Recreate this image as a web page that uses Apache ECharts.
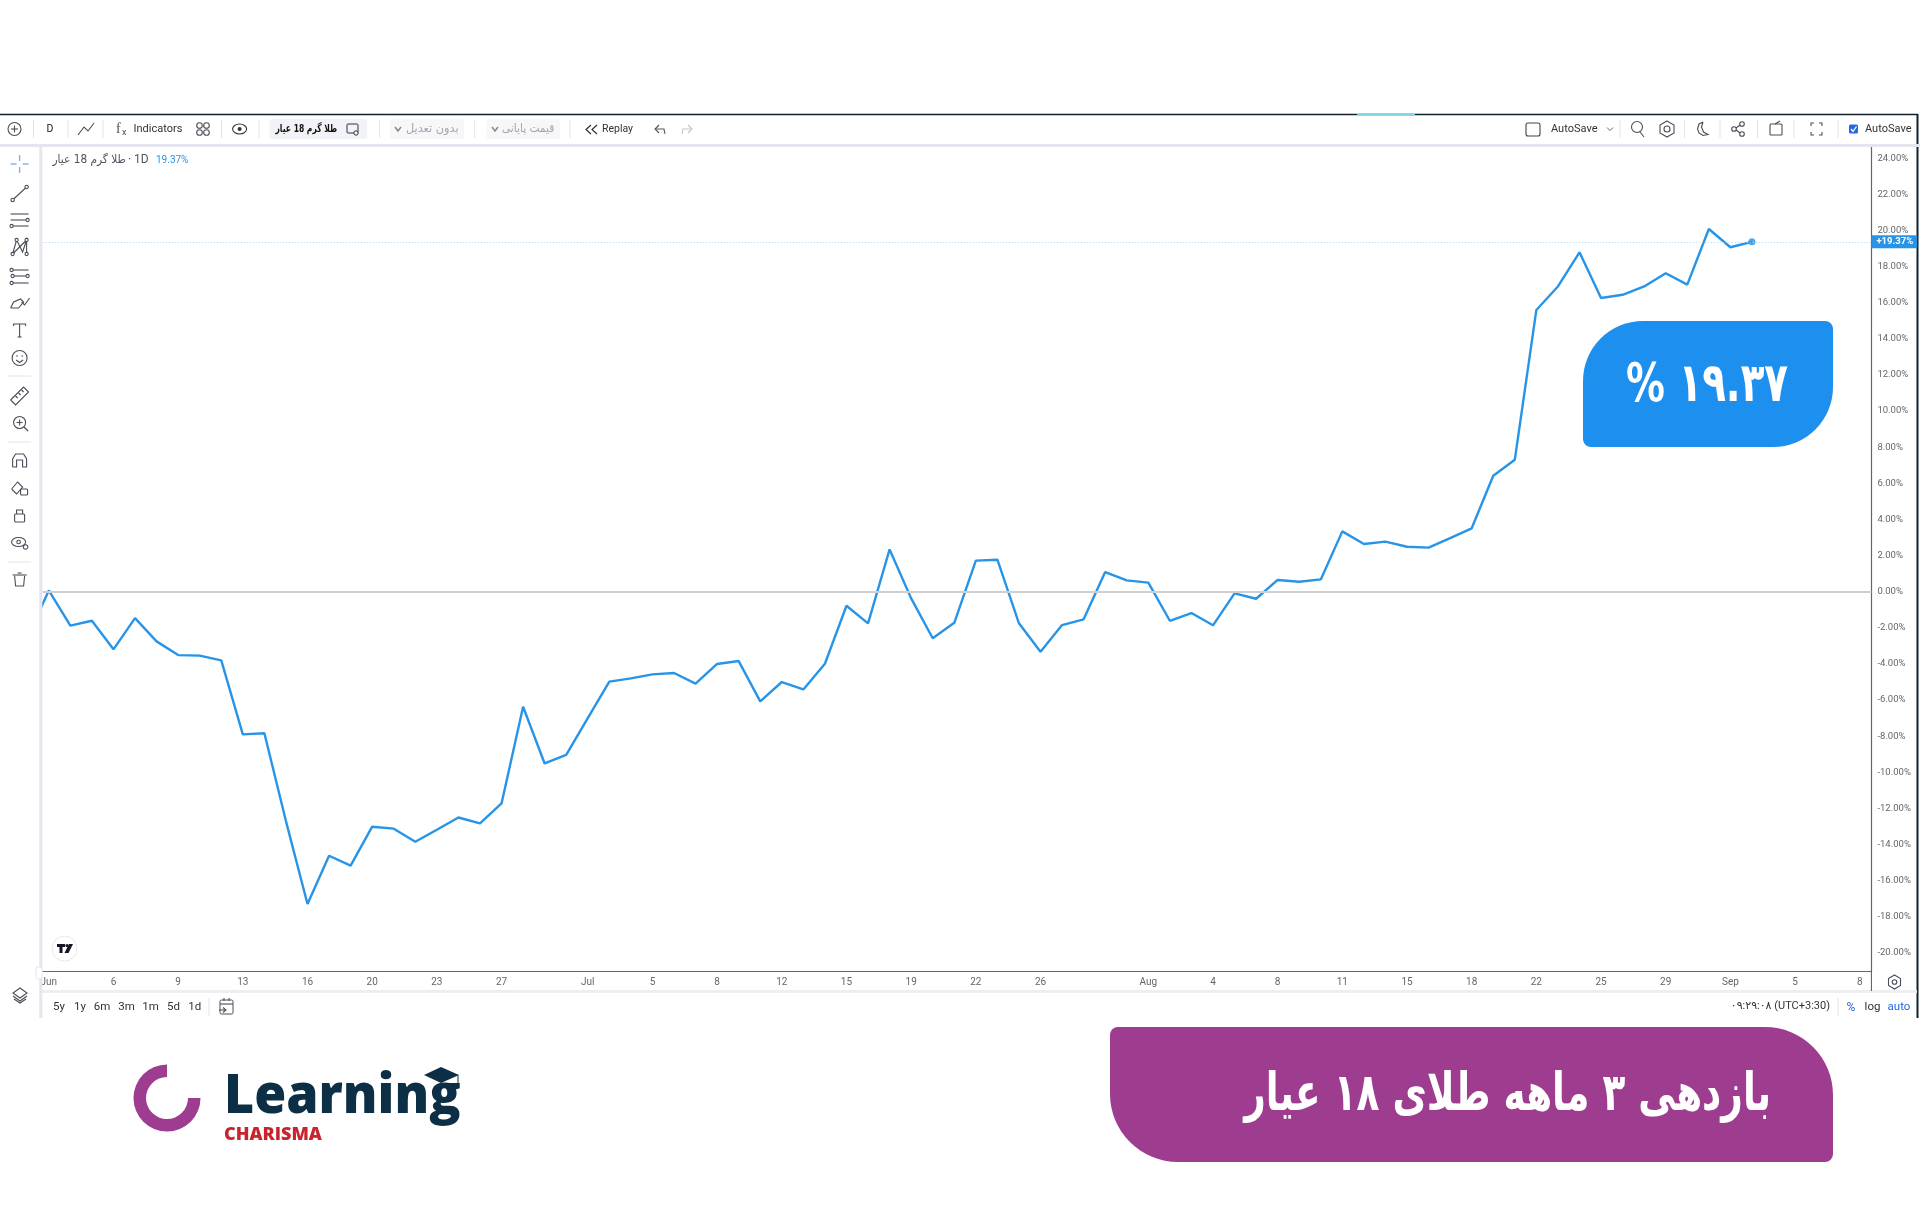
<!DOCTYPE html>
<html>
<head>
<meta charset="utf-8">
<title>gold 18k</title>
<style>
html,body{margin:0;padding:0;background:#fff;}
#main{width:1920px;height:1228px;}
</style>
<script src="https://cdn.jsdelivr.net/npm/echarts@6/dist/echarts.min.js"></script>
</head>
<body>
<div id="main"></div>
<script>
// returns in percent, first one is cut by the left edge
var returns = [-2.55,
	0.07,-1.88,-1.61,-3.19,-1.46,-2.75,-3.51,-3.54,-3.80,-7.90,
	-7.84,-12.70,-17.29,-14.62,-15.17,-13.01,-13.12,-13.84,-13.18,-12.50,
	-12.83,-11.72,-6.37,-9.51,-9.03,-7.00,-4.98,-4.80,-4.58,-4.50,
	-5.09,-4.00,-3.84,-6.07,-5.00,-5.41,-3.99,-0.78,-1.75,2.34,
	-0.37,-2.58,-1.72,1.72,1.77,-1.75,-3.32,-1.85,-1.53,1.09,
	0.63,0.50,-1.61,-1.18,-1.86,-0.09,-0.39,0.65,0.55,0.68,
	3.34,2.64,2.77,2.49,2.44,2.97,3.51,6.42,7.31,15.60,
	16.90,18.79,16.26,16.44,16.90,17.63,17.00,20.08,19.07,19.37];
var firstBar = -1;
var lastValue = 19.37;
var xTickBars = [0,3,6,9,12,15,18,21,25,28,31,34,37,40,43,46,51,54,57,60,63,66,69,72,75,78,81,84];
var xTickLabels = ['Jun','6','9','13','16','20','23','27','Jul','5','8','12','15','19','22','26','Aug','4','8','11','15','18','22','25','29','Sep','5','8'];
var yTicks = [-20,-18,-16,-14,-12,-10,-8,-6,-4,-2,0,2,4,6,8,10,12,14,16,18,20,22,24];

var seriesData = [];
for(var i = 0; i < returns.length; i++)
{
	seriesData.push([firstBar + i, returns[i]]);
}

var narrow = 'Roboto,sans-serif';
var farsi = '"DejaVu Sans",sans-serif';
var lineColor = '#2794e8';
var iconColor = '#4a4e59';
var g = [];

function txt(x,y,text,size,color,opt)
{
	opt = opt || {};
	g.push({type:'text',silent:true,z:opt.z||5,x:x,y:y,scaleX:opt.sx||1,style:{text:text,fontSize:size,fill:color,
		fontFamily:opt.font||narrow,fontWeight:opt.weight||'normal',align:opt.align||'left',verticalAlign:'middle'}});
}
function ln(x1,y1,x2,y2,color,w)
{
	g.push({type:'line',silent:true,z:4,shape:{x1:x1,y1:y1,x2:x2,y2:y2},style:{stroke:color||iconColor,lineWidth:w||1.1}});
}
function path(points,color,w)
{
	g.push({type:'polyline',silent:true,z:4,shape:{points:points},style:{stroke:color||iconColor,lineWidth:w||1.1,fill:null}});
}
function circ(x,y,r,fill,color,w)
{
	g.push({type:'circle',silent:true,z:4,shape:{cx:x,cy:y,r:r},style:{fill:fill||'#fff',stroke:color===undefined?iconColor:color,lineWidth:w||1.1}});
}
function box(x,y,w,h,r,fill,color,lw)
{
	g.push({type:'rect',silent:true,z:3,shape:{x:x,y:y,width:w,height:h,r:r},style:{fill:fill,stroke:color||null,lineWidth:lw||1}});
}
function poly(points,fill)
{
	g.push({type:'polygon',silent:true,z:4,shape:{points:points},style:{fill:fill}});
}

// frame of the screenshot
ln(0,114.5,1918,114.5,'#10202c',1.4);
ln(1357,114.5,1415,114.5,'#7fd6e6',1.6);
ln(1917.5,114,1917.5,1018,'#10202c',2);
ln(0,145.5,1920,145.5,'#e4e5ef',3);
ln(40.8,146,40.8,1018,'#e4e5ef',3);
ln(42,991.5,1917,991.5,'#eeeef2',3);
ln(1871.4,971,1871.4,991,'#555',1);

// top toolbar
var topY = 129;
var seps = [33.5,68,103,221.6,259,379.6,474.7,570,1620,1684.5,1720,1757.5,1794,1838];
for(var s = 0; s < seps.length; s++)
{
	ln(seps[s],120,seps[s],138,'#e3e4ea',1);
}
circ(14.5,topY,6.5,'#fff');
ln(11,topY,18,topY);
ln(14.5,topY-3.5,14.5,topY+3.5);
txt(50,topY,'D',10.5,'#222',{align:'center'});
path([[78,135],[84,127],[88,131],[94,123]]);
txt(116,topY,'f',14,iconColor,{font:'"Liberation Serif",serif'});
txt(122,topY+4,'x',9,iconColor);
txt(133.5,topY,'Indicators',11,'#333');
circ(199.5,125.5,2.8);circ(206.5,125.5,2.8);circ(199.5,132.5,2.8);circ(206.5,132.5,2.8);
g.push({type:'ellipse',silent:true,z:4,shape:{cx:239.6,cy:topY,rx:7,ry:5},style:{fill:'#fff',stroke:'#333',lineWidth:1.1}});
circ(239.6,topY,2,'#333',null);

box(269.5,119,97.5,20,3,'#f1f3f8');
txt(275.5,topY,'طلا گرم 18 عیار',11,'#111',{font:farsi,weight:'bold',sx:0.69});
box(347,124,11,9,1,'#f1f3f8','#333',1);
circ(356,133,2.2,'#f1f3f8','#333',1);

box(390,119,74,20,3,'#f7f7f9');
path([[395,127],[398,131],[401,127]],'#888',1.5);
txt(406,topY,'بدون تعدیل',11.5,'#a2a5ad',{font:farsi,sx:0.98});
box(486.5,119,73.5,20,3,'#f7f7f9');
path([[492,127],[495,131],[498,127]],'#888',1.5);
txt(502,topY,'قیمت پایانی',11.5,'#a2a5ad',{font:farsi,sx:0.92});

path([[591,125],[586,129.5],[591,134]],'#333',1.2);
path([[597,125],[592,129.5],[597,134]],'#333',1.2);
txt(602,topY,'Replay',10.5,'#333');
path([[659,125],[655,129],[659,133]],'#555',1.1);
path([[655,129],[664,129],[665,134]],'#555',1.1);
path([[688,125],[692,129],[688,133]],'#c2c4cb',1.1);
path([[692,129],[683,129],[682,134]],'#c2c4cb',1.1);

box(1526,123,14,13,2,'#fff','#444',1.1);
txt(1551,topY,'AutoSave',11,'#333');
path([[1607,127.5],[1610,130.5],[1613,127.5]],'#666',1);
circ(1637,127,5.5);
ln(1640,132,1644,137);
g.push({type:'polygon',silent:true,z:4,shape:{points:[[1667,121],[1674,125],[1674,133],[1667,137],[1660,133],[1660,125]]},style:{fill:'#fff',stroke:iconColor,lineWidth:1.1}});
circ(1667,129,3);
path([[1703,122],[1699,124],[1697.5,129],[1699,133],[1703,135.5],[1708,134.5],[1703.5,132],[1701.5,127],[1703,122]]);
circ(1742,124,2.3);circ(1734,129,2.3);circ(1742,134,2.3);
ln(1736,128,1740,125);ln(1736,130,1740,133);
box(1770,124,12,11,1,'#fff',iconColor,1.1);
ln(1775,124,1780,121);
path([[1811,126],[1811,123],[1814,123]]);path([[1819,123],[1822,123],[1822,126]]);
path([[1811,132],[1811,135],[1814,135]]);path([[1819,135],[1822,135],[1822,132]]);
box(1849,124.5,9,9,1.5,'#2467e0');
path([[1851,129],[1853,131.5],[1856.5,126.5]],'#fff',1.3);
txt(1865,topY,'AutoSave',11,'#333');

// left toolbar
var lx = 19.6;
ln(lx-9,164,lx-3,164,'#7fb2e5',1.4);ln(lx+3,164,lx+9,164,'#7fb2e5',1.4);
ln(lx,155,lx,161,'#7fb2e5',1.4);ln(lx,167,lx,173,'#7fb2e5',1.4);
ln(lx-6,199,lx+6,188);circ(lx-7,200,1.7);circ(lx+7,187,1.7);
ln(lx-9,214,lx+9,214);ln(lx-9,220,lx+7,220);ln(lx-7,226,lx+9,226);circ(lx+8,220,1.6);circ(lx-8,226,1.6);
path([[lx-7,254],[lx-3,240],[lx+3,252],[lx+7,240],[lx+7,254]]);ln(lx-7,254,lx+7,240);
circ(lx-7,254,1.6);circ(lx-3,240,1.6);circ(lx+7,240,1.6);circ(lx+7,254,1.6);
ln(lx-9,270,lx+9,270);ln(lx-6,276,lx+7,276);ln(lx-9,283,lx+9,283);
circ(lx-8,270,1.6);circ(lx-7,276,1.6);circ(lx+8,276,1.6);circ(lx-8,283,1.6);
path([[lx-9,308],[lx-6,302],[lx+1,299],[lx+4,302],[lx-1,308],[lx-9,308]]);path([[lx+2,302],[lx+5,305],[lx+10,298]]);
path([[lx-6,326],[lx-6,324],[lx+6,324],[lx+6,326]]);ln(lx,324,lx,337);ln(lx-2,337,lx+2,337);
circ(lx,358,7.5);circ(lx-2.6,356,0.8,iconColor,null);circ(lx+2.6,356,0.8,iconColor,null);
path([[lx-3.5,360],[lx,362.5],[lx+3.5,360]]);
ln(8,376,31,376,'#e3e4ea',1);
path([[lx-9,400],[lx-4,405],[lx+9,392],[lx+4,387],[lx-9,400]]);
ln(lx-4,396,lx-2,398);ln(lx-1,393,lx+1,395);ln(lx+2,390,lx+4,392);
circ(lx,422.5,6);ln(lx+4.5,427,lx+8.5,431);ln(lx-3,422.5,lx+3,422.5);ln(lx,419.5,lx,425.5);
ln(8,442,31,442,'#e3e4ea',1);
path([[lx-7,467],[lx-7,459],[lx-4,454],[lx+4,454],[lx+7,459],[lx+7,467],[lx+3,467],[lx+3,460],[lx-3,460],[lx-3,467],[lx-7,467]]);
path([[lx-8,489],[lx-2,482],[lx+3,487],[lx-3,494],[lx-8,489]]);box(lx+1,489,7,6,1,'#fff',iconColor,1.1);
box(lx-5,514,10,8,1,'#fff',iconColor,1.1);path([[lx-3,514],[lx-3,510],[lx+3,510],[lx+3,514]]);
g.push({type:'ellipse',silent:true,z:4,shape:{cx:lx-1,cy:542,rx:7,ry:4.5},style:{fill:'#fff',stroke:iconColor,lineWidth:1.1}});
circ(lx-1,542,1.8);circ(lx+6,547,2.2);
ln(8,562,31,562,'#e3e4ea',1);
path([[lx-5,576],[lx-4,586],[lx+4,586],[lx+5,576]]);ln(lx-7,575,lx+7,575);ln(lx-2,573,lx+2,573);
g.push({type:'polygon',silent:true,z:4,shape:{points:[[20,988],[27,993],[20,998],[13,993]]},style:{fill:'#fff',stroke:iconColor,lineWidth:1.1}});
path([[13,996],[20,1001],[27,996]]);path([[14,999],[20,1003],[26,999]]);

// tv badge
circ(64.5,948.7,12.5,'#fff','#e9e9ee',1);
poly([[57,944],[65,944],[65,947],[62.5,947],[62.5,953],[59.5,953],[59.5,947],[57,947]],'#131722');
circ(67,945.5,1.6,'#131722',null);
poly([[69,944],[73,944],[68.5,953],[64.5,953]],'#131722');
g.push({type:'rect',silent:true,z:4,shape:{x:36,y:967,width:6,height:12,r:2},style:{fill:'#fff',stroke:'#e4e5ef',lineWidth:1}});

// bottom bar
var bottomY = 1006.7;
var ranges = [['5y',59],['1y',80],['6m',102],['3m',126.5],['1m',150.6],['5d',173.5],['1d',194.7]];
for(var r = 0; r < ranges.length; r++)
{
	txt(ranges[r][1],bottomY,ranges[r][0],11.5,'#333',{align:'center'});
}
ln(209,998,209,1016,'#e3e4ea',1);
box(220,1000,13,14,1.5,'#fff',iconColor,1);
ln(220,1004,233,1004);ln(224,998,224,1001);ln(229,998,229,1001);
path([[219,1010],[226,1010]]);path([[223,1007.5],[226,1010],[223,1012.5]]);
txt(1830,bottomY,'۰۹:۲۹:۰۸ (UTC+3:30)',11,'#333',{align:'right',font:narrow+',"DejaVu Sans"'});
ln(1838,998,1838,1016,'#e3e4ea',1);
txt(1851,bottomY+1,'%',12,'#2467e0',{align:'center'});
txt(1872.5,bottomY,'log',11.5,'#333',{align:'center'});
txt(1899,bottomY,'auto',11.5,'#2467e0',{align:'center'});
g.push({type:'polygon',silent:true,z:4,shape:{points:[[1894.5,975],[1900.5,978.5],[1900.5,985.5],[1894.5,989],[1888.5,985.5],[1888.5,978.5]]},style:{fill:'#fff',stroke:iconColor,lineWidth:1.1}});
circ(1894.5,982,2.3);

// legend in the chart
txt(126,160,'طلا گرم 18 عیار',11.5,'#50535e',{font:farsi,align:'right',sx:0.92});
txt(128,160,'·',12,'#50535e');
txt(134,160,'1D',12,'#50535e');
txt(156,160,lastValue.toFixed(2)+'%',10,lineColor);

// blue and purple cards
box(1583,321,250,126,[60,8,60,8],'#1d90ef');
txt(1707,387,'% ۱۹.۳۷',54,'#fff',{font:farsi,align:'center',weight:'bold',sx:0.72,z:6});
box(1110,1027,723,135,[8,68,8,68],'#9e3d90');
txt(1771,1096,'بازدهی ۳ ماهه طلای ۱۸ عیار',52,'#fff',{font:farsi,align:'right',weight:'bold',sx:0.72,z:6});

// logo
g.push({type:'sector',silent:true,z:4,shape:{cx:167,cy:1098,r0:21,r:33.5,startAngle:0,endAngle:Math.PI*1.5,clockwise:true},style:{fill:'#9e3d90'}});
txt(224,1098,'Learning',54,'#0d2f45',{font:'"Open Sans",sans-serif',weight:800,sx:0.96});
poly([[441,1067],[459,1075],[441,1083],[424,1075]],'#0d2f45');
ln(458,1075,458,1086,'#0d2f45',1);
txt(224,1135,'CHARISMA',18,'#c8242f',{font:'"Open Sans",sans-serif',weight:800});

var myChart = echarts.init(document.getElementById('main'));
var option = {
	animation:false,
	backgroundColor:'#fff',
	grid:{left:42.8,top:146.3,width:1828.6,height:824.7,containLabel:false},
	xAxis:{
		type:'value',
		min:-0.278,
		max:84.54,
		splitLine:{show:false},
		axisTick:{show:false},
		axisLine:{onZero:false,lineStyle:{color:'#666',width:1.2}},
		axisLabel:{
			customValues:xTickBars,
			margin:6,
			fontSize:10,
			fontFamily:narrow,
			color:'#666',
			hideOverlap:false,
			formatter:function(v){
				return xTickLabels[xTickBars.indexOf(v)];
			}
		}
	},
	yAxis:{
		type:'value',
		position:'right',
		min:-21,
		max:24.66,
		splitLine:{show:false},
		axisTick:{show:false},
		axisLine:{show:true,onZero:false,lineStyle:{color:'#666',width:1.2}},
		axisLabel:{
			customValues:yTicks,
			margin:6,
			fontSize:9.5,
			fontFamily:narrow,
			color:'#666',
			formatter:function(v){
				return v.toFixed(2)+'%';
			}
		}
	},
	series:[{
		type:'line',
		data:seriesData,
		showSymbol:false,
		symbol:'none',
		lineStyle:{color:lineColor,width:2.4},
		silent:true,
		markLine:{
			silent:true,
			symbol:'none',
			animation:false,
			data:[
				{yAxis:0,lineStyle:{color:'#cfcfd2',width:1.8,type:'solid'},label:{show:false}},
				{yAxis:lastValue,lineStyle:{color:'#a9d6f6',width:1.2,type:[1,2]},label:{
					show:true,position:'end',distance:0,formatter:'+'+lastValue.toFixed(2)+'%',
					backgroundColor:lineColor,color:'#fff',fontSize:9.5,fontFamily:narrow,fontWeight:'bold',
					padding:[2,4,1,5]
				}}
			]
		}
	},{
		type:'scatter',
		data:[seriesData[seriesData.length-1]],
		symbol:'circle',
		symbolSize:7,
		itemStyle:{color:lineColor},
		silent:true
	}],
	graphic:g
};
myChart.setOption(option);
</script>
</body>
</html>
